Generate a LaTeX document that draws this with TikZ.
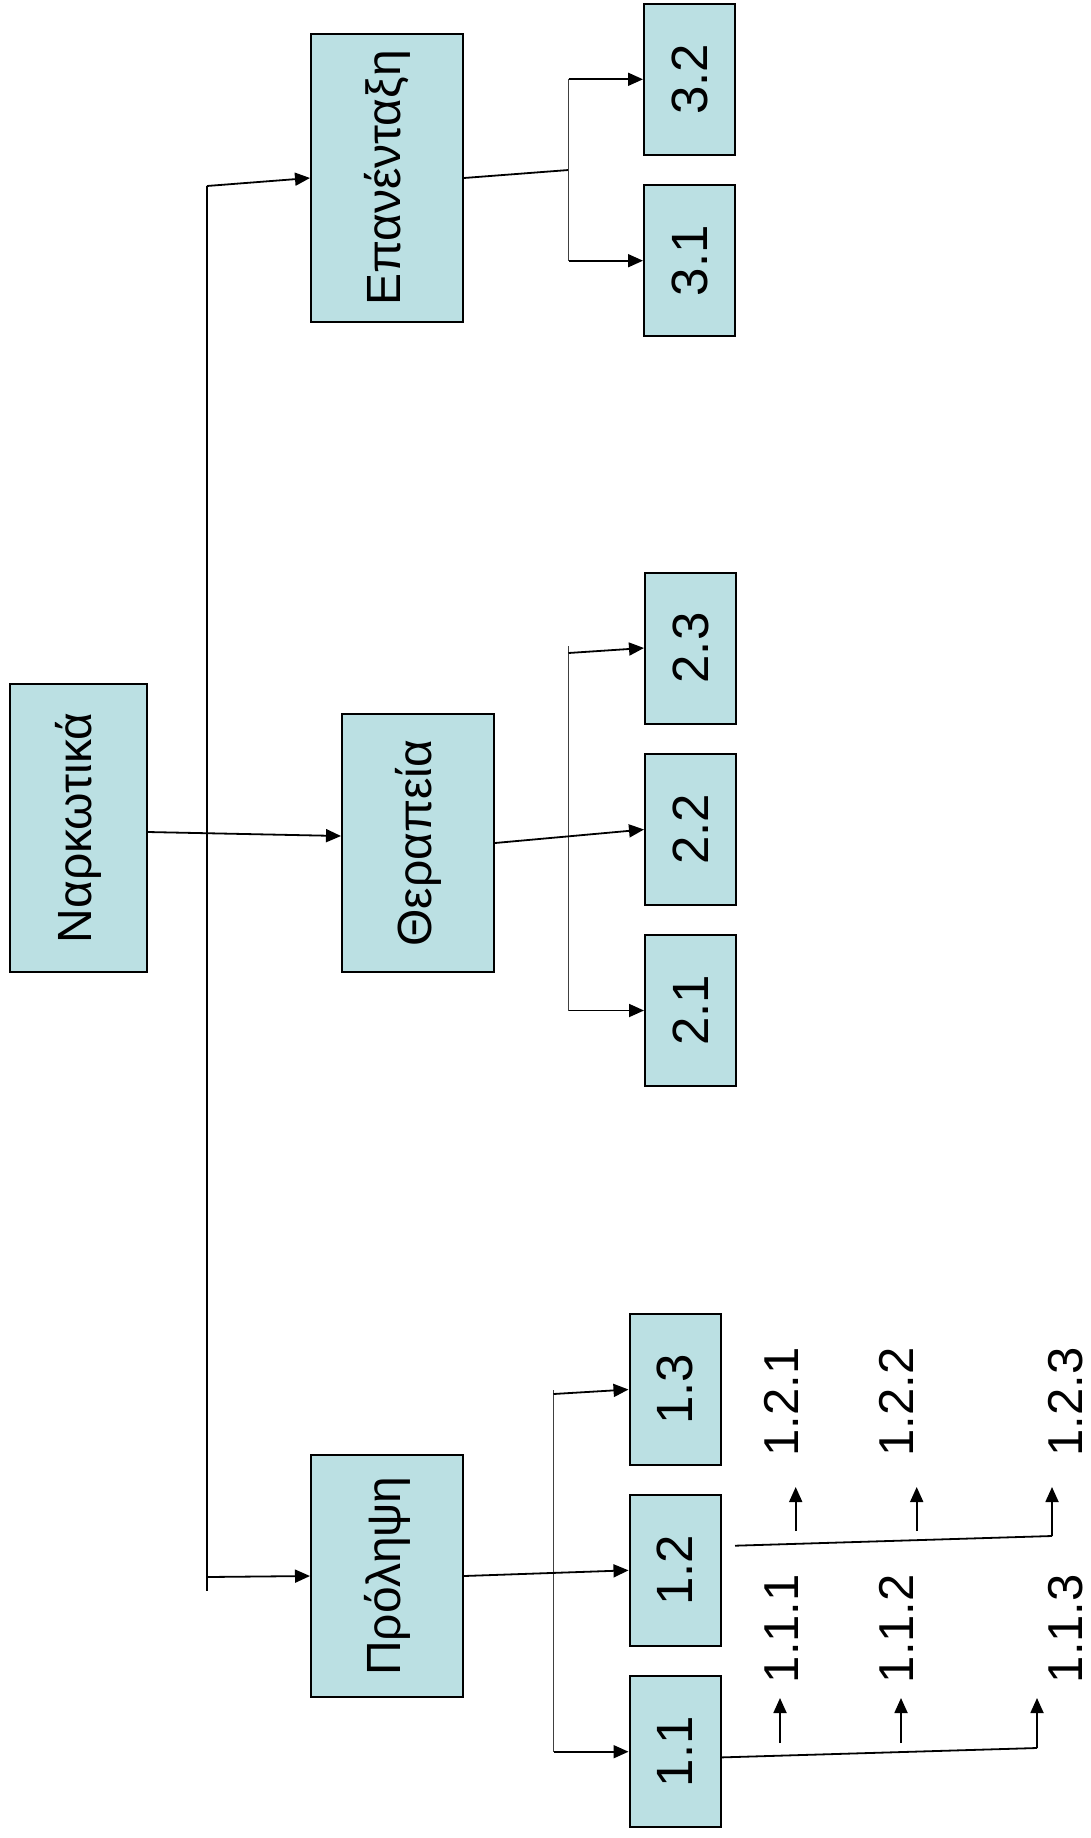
\documentclass[tikz,border=0pt]{standalone}
\usepackage{fontspec}
\setmainfont{Liberation Sans}
\usetikzlibrary{arrows.meta}
\definecolor{boxfill}{RGB}{187,224,227}
\tikzset{
  box/.style={draw=black, line width=2pt, fill=boxfill, inner sep=0pt},
  bigbox/.style={box, minimum width=152pt, font=\fontsize{48}{58}\selectfont},
  smallbox/.style={box, minimum width=91pt, minimum height=151pt, font=\fontsize{51}{60}\selectfont},
  lab/.style={inner sep=0pt, font=\fontsize{49}{58}\selectfont},
  conn/.style={line width=1.8pt, -{Triangle[length=15pt,width=13pt]}},
  plain/.style={line width=1.8pt},
  branch/.style={line width=1.3pt, black!75},
}
\begin{document}
\begin{tikzpicture}[x=1pt,y=-1pt]
\useasboundingbox (0,0) rectangle (1091,1838);
% main boxes
\node[box, minimum width=137pt, minimum height=288pt, font=\fontsize{48}{58}\selectfont] (nark) at (78,828) {\rotatebox{90}{Ναρκωτικά}};
\node[bigbox, minimum height=258pt] (ther) at (418,843) {\rotatebox{90}{Θεραπεία}};
\node[bigbox, minimum height=288pt] (epan) at (387,178) {\rotatebox{90}{Επανένταξη}};
\node[bigbox, minimum height=242pt] (prol) at (387,1576) {\rotatebox{90}{Πρόληψη}};
% small boxes
\node[smallbox] (b32) at (689.5,79.3) {\rotatebox{90}{3.2}};
\node[smallbox] (b31) at (689.5,260.7) {\rotatebox{90}{3.1}};
\node[smallbox] (b23) at (690.5,648) {\rotatebox{90}{2.3}};
\node[smallbox] (b22) at (690.5,829.5) {\rotatebox{90}{2.2}};
\node[smallbox] (b21) at (690.5,1010.5) {\rotatebox{90}{2.1}};
\node[smallbox] (b13) at (675,1389.5) {\rotatebox{90}{1.3}};
\node[smallbox] (b12) at (675,1570.3) {\rotatebox{90}{1.2}};
\node[smallbox] (b11) at (675,1751.7) {\rotatebox{90}{1.1}};
% labels
\node[lab] (l111) at (781.7,1628.6) {\rotatebox{90}{1.1.1}};
\node[lab] (l112) at (896,1628.6) {\rotatebox{90}{1.1.2}};
\node[lab] (l113) at (1066,1628.6) {\rotatebox{90}{1.1.3}};
\node[lab] (l121) at (781.7,1402) {\rotatebox{90}{1.2.1}};
\node[lab] (l122) at (896,1402) {\rotatebox{90}{1.2.2}};
\node[lab] (l123) at (1066,1402) {\rotatebox{90}{1.2.3}};
% trunk
\coordinate (jtop) at (207,186);
\coordinate (jbot) at (207,1577);
\coordinate (tend) at (207,1591);
\draw[plain] (jtop) -- (tend);
\draw[conn] (jtop) -- (epan.west);
\draw[conn] (jbot) -- (prol.west);
\draw[conn] ([yshift=-4pt]nark.east) -- ([yshift=7pt]ther.west);
% branch 3
\coordinate (j3) at (568.6,170);
\draw[plain] (epan.east) -- (j3);
\draw[branch] (j3 |- b32.west) -- (j3 |- b31.west);
\draw[conn] (j3 |- b32.west) -- (b32.west);
\draw[conn] (j3 |- b31.west) -- (b31.west);
% branch 2
\coordinate (j2t) at (568.5,653);
\draw[branch] (568.5,646) -- (j2t |- b21.west);
\draw[conn] (j2t) -- (b23.west);
\draw[conn] (j2t |- b21.west) -- (b21.west);
\draw[conn] (ther.east) -- (b22.west);
% branch 1
\coordinate (j1t) at (553.5,1394);
\draw[branch] (553.5,1390) -- (j1t |- b11.west);
\draw[conn] (j1t) -- (b13.west);
\draw[conn] (j1t |- b11.west) -- (b11.west);
\draw[conn] (prol.east) -- (b12.west);
% 1.1 sub arrows
\coordinate (e11) at (1037,1748);
\draw[plain] ([yshift=-5.7pt]b11.east) -- (e11);
\coordinate (u111) at (780,1743);
\coordinate (u112) at (901,1743);
\coordinate (t111) at (780,1698);
\coordinate (t112) at (901,1698);
\coordinate (t113) at (1037,1698);
\draw[conn] (u111) -- (t111);
\draw[conn] (u112) -- (t112);
\draw[conn] (e11) -- (t113);
% 1.2 sub arrows
\coordinate (s12) at (735,1545.7);
\coordinate (e12) at (1052,1536);
\draw[plain] (s12) -- (e12);
\coordinate (u121) at (795.7,1531);
\coordinate (u122) at (916.7,1531);
\coordinate (t121) at (795.7,1487);
\coordinate (t122) at (916.7,1487);
\coordinate (t123) at (1052,1487);
\draw[conn] (u121) -- (t121);
\draw[conn] (u122) -- (t122);
\draw[conn] (e12) -- (t123);
\end{tikzpicture}
\end{document}
